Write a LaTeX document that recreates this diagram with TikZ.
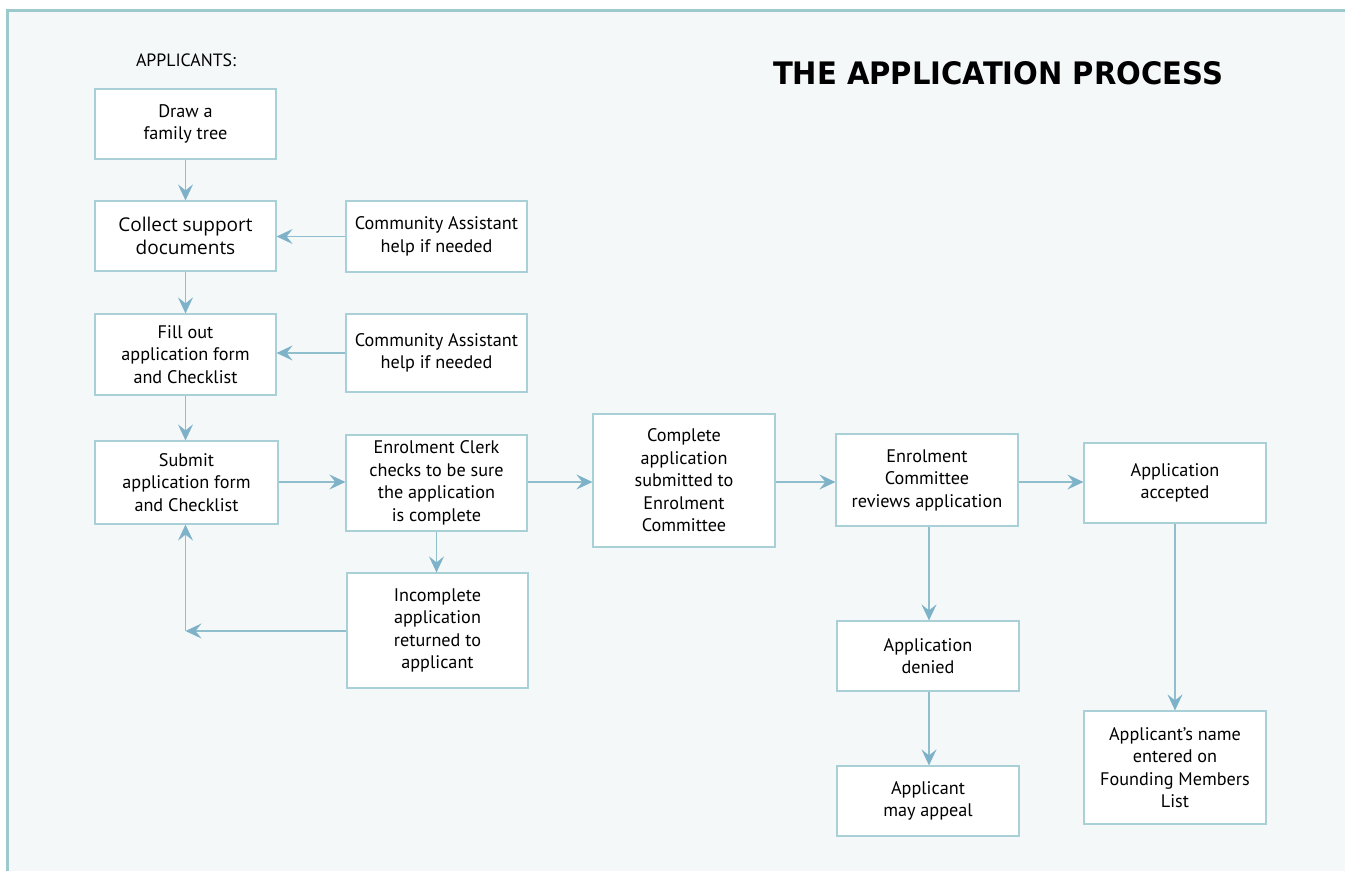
\documentclass[tikz,border=0pt]{standalone}
\usepackage{fontspec}
\usepackage{graphicx}
\setmainfont{PT Sans}
\newfontfamily\titlefont{DejaVu Sans}
\newfontfamily\collectfont{Open Sans}
\usetikzlibrary{arrows.meta}
\definecolor{panel}{HTML}{F4F8F9}
\definecolor{frame}{HTML}{9CC9CC}
\definecolor{boxline}{HTML}{A8D0D6}
\definecolor{arrowc}{HTML}{8FBFCD}
\definecolor{tipc}{HTML}{7DB2C8}
\begin{document}
\begin{tikzpicture}[x=1pt,y=-1pt,
  box/.style={draw=boxline, line width=1.2pt, fill=white, inner sep=0pt, align=center,
    font=\fontsize{18.2}{22.5}\selectfont, text=black},
  flow/.style={draw=arrowc, line width=1.2pt,
    -{Stealth[length=16pt,width=15pt,inset=6pt,color=tipc,fill=tipc]}}]
\useasboundingbox (0,0) rectangle (1345,871);
\fill[white] (0,0) rectangle (1345,871);
\fill[panel] (7,10) rectangle (1345,871);
\draw[frame, line width=3pt] (7.5,871) -- (7.5,10.5) -- (1345,10.5);

\node[font=\fontsize{17.8}{20}\selectfont] (hdr) at (186,60) {APPLICANTS:};
\node[inner sep=0pt] (title) at (998,73.5) {\resizebox{450pt}{23pt}{\titlefont\bfseries THE APPLICATION PROCESS}};

\node[box, minimum width=181pt, minimum height=70pt] (draw) at (185.5,124) {Draw a\\family tree};
\node[box, minimum width=181pt, minimum height=70pt, font=\collectfont\fontsize{19}{22.5}\selectfont] (collect) at (185.5,236) {Collect support\\documents};
\node[box, minimum width=181pt, minimum height=71pt] (ca1) at (436.5,236.5) {Community Assistant\\help if needed};
\node[box, minimum width=181pt, minimum height=81pt] (fill) at (185.5,354.5) {Fill out\\application form\\and Checklist};
\node[box, minimum width=181pt, minimum height=78pt] (ca2) at (436.5,353) {Community Assistant\\help if needed};
\node[box, minimum width=183pt, minimum height=83pt] (submit) at (186.5,482.5) {Submit\\application form\\and Checklist};
\node[box, minimum width=181pt, minimum height=96pt] (clerk) at (436.5,483) {Enrolment Clerk\\checks to be sure\\the application\\is complete};
\node[box, minimum width=181pt, minimum height=115pt] (incomplete) at (437.5,630.5) {Incomplete\\application\\returned to\\applicant};
\node[box, minimum width=182pt, minimum height=133pt] (complete) at (684,480.5) {Complete\\application\\submitted to\\Enrolment\\Committee};
\node[box, minimum width=182pt, minimum height=92pt] (committee) at (927,480) {Enrolment\\Committee\\reviews application};
\node[box, minimum width=182pt, minimum height=80pt] (accepted) at (1175,483) {Application\\accepted};
\node[box, minimum width=182pt, minimum height=70pt] (denied) at (928,656) {Application\\denied};
\node[box, minimum width=182pt, minimum height=70pt] (appeal) at (928,801) {Applicant\\may appeal};
\node[box, minimum width=182pt, minimum height=113pt] (name) at (1175,767.5) {Applicant’s name\\entered on\\Founding Members\\List};

\coordinate (corner) at (185.5,631);

\draw[flow] (draw.south) -- (collect.north);
\draw[flow] (ca1.west) -- (ca1.west -| collect.east);
\draw[flow] (collect.south) -- (fill.north);
\draw[flow] (ca2.west) -- (ca2.west -| fill.east);
\draw[flow] (fill.south) -- (fill.south |- submit.north);
\draw[flow] (submit.east |- 0,482) -- (clerk.west |- 0,482);
\draw[flow] (clerk.south) -- (clerk.south |- incomplete.north);
\draw[flow] (incomplete.west |- corner) -- (corner);
\draw[flow] (corner) -- (corner |- submit.south);
\draw[flow] (clerk.east |- 0,482) -- (complete.west |- 0,482);
\draw[flow] (complete.east |- 0,482) -- (committee.west |- 0,482);
\draw[flow] (committee.east |- 0,482) -- (accepted.west |- 0,482);
\draw[flow] (committee.south -| 929,0) -- (denied.north -| 929,0);
\draw[flow] (denied.south -| 929,0) -- (appeal.north -| 929,0);
\draw[flow] (accepted.south) -- (name.north);
\end{tikzpicture}
\end{document}
